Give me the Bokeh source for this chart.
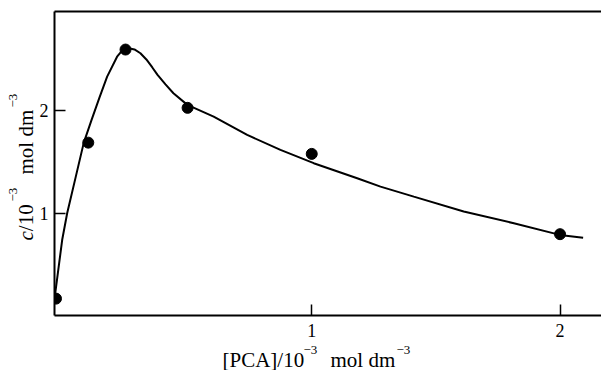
import math
from bokeh.plotting import figure
from bokeh.models import Range1d, LinearAxis, FixedTicker, Label, BoxAnnotation
from bokeh.embed import file_html
from bokeh.resources import INLINE

# ---- data ----
pca_points = [-0.03, 0.10, 0.25, 0.50, 1.00, 2.00]
c_points = [0.165, 1.69, 2.60, 2.03, 1.58, 0.795]

curve_x = [-0.034, -0.020, -0.005, 0.015, 0.050, 0.082, 0.113, 0.145, 0.176, 0.216,
           0.238, 0.263, 0.286, 0.310, 0.334, 0.358, 0.379, 0.411, 0.443, 0.499,
           0.605, 0.740, 0.874, 1.008, 1.183, 1.277, 1.411, 1.612, 1.814, 1.999,
           2.093]
curve_y = [0.20, 0.46, 0.74, 1.00, 1.36, 1.69, 1.91, 2.13, 2.335, 2.53,
           2.595, 2.613, 2.601, 2.564, 2.503, 2.425, 2.352, 2.259, 2.173, 2.059,
           1.944, 1.765, 1.619, 1.489, 1.342, 1.26, 1.162, 1.016, 0.902, 0.788,
           0.761]

x_ticks = [1, 2]
y_ticks = [1, 2]

# ---- layout (pixel frame of the axes box) ----
W, H = 601, 370
FL, FT, FW, FH = 54, 11, 547, 304
X0, X1 = -0.036, 2.167        # data span of the axes box
Y0, Y1 = 0.0, 2.972
FONT = "Liberation Serif"


def X(px):
    return X0 + (px - FL) * (X1 - X0) / FW


def Y(py):
    return Y0 + (FT + FH - py) * (Y1 - Y0) / FH


p = figure(width=W, height=H, output_backend="svg", toolbar_location=None,
           x_range=Range1d(X(0), X(W)), y_range=Range1d(Y(H), Y(0)),
           min_border_left=0, min_border_right=0, min_border_top=0,
           min_border_bottom=0)
p.outline_line_color = None
p.xgrid.visible = False
p.ygrid.visible = False
p.background_fill_color = "white"
p.border_fill_color = "white"

xa, ya = p.xaxis[0], p.yaxis[0]
xa.fixed_location = Y0
xa.bounds = (X0, X1)
ya.fixed_location = X0
ya.bounds = (Y0, Y1)
for ax, ticks, standoff in ((xa, x_ticks, 8), (ya, y_ticks, 6)):
    ax.ticker = FixedTicker(ticks=ticks)
    ax.axis_line_width = 2
    ax.axis_line_color = "black"
    ax.major_tick_in = 11
    ax.major_tick_out = 0
    ax.major_tick_line_width = 1.5
    ax.major_tick_line_color = "black"
    ax.minor_tick_line_color = None
    ax.major_label_text_font = FONT
    ax.major_label_text_font_size = "18px"
    ax.major_label_text_color = "black"
    ax.major_label_standoff = standoff

top = LinearAxis(ticker=FixedTicker(ticks=[]), fixed_location=Y1, bounds=(X0, X1),
                 axis_line_width=2, axis_line_color="black",
                 major_tick_line_color=None, minor_tick_line_color=None,
                 major_label_text_font_size="0px")
p.add_layout(top, "above")

p.line(curve_x, curve_y, line_width=2, line_color="black")
p.scatter(pca_points, c_points, size=11, fill_color="black", line_color="black")

# white mask left of the y axis (the original clips marks at the axis)
mask = BoxAnnotation(right=X0, fill_color="white", fill_alpha=1.0, line_color=None,
                     level="glyph")
p.add_layout(mask)


def lab(px, py, text, size, align="left", angle=0.0, style="normal"):
    p.add_layout(Label(x=X(px), y=Y(py), text=text, text_font=FONT,
                       text_font_size=f"{size}px", text_color="black",
                       text_align=align, text_baseline="middle",
                       text_font_style=style, angle=angle))


# x-axis title: [PCA]/10^-3 mol dm^-3   (anchors = vertical middle of glyphs)
lab(222, 359, "[PCA]/10", 21)
lab(303, 349.5, "\u22123", 13)
lab(330, 359, "mol dm", 21)
lab(396, 349.5, "\u22123", 13)

# y-axis title: c/10^-3 mol dm^-3 (rotated, reads upward)
r = math.pi / 2
lab(25, 240, "c", 21, angle=r, style="italic")
lab(25, 230.7, "/10", 21, angle=r)
lab(12, 201, "\u22123", 13, angle=r)
lab(25, 174, "mol dm", 21, angle=r)
lab(12, 107, "\u22123", 13, angle=r)

open("out.html", "w").write(file_html(p, INLINE))
